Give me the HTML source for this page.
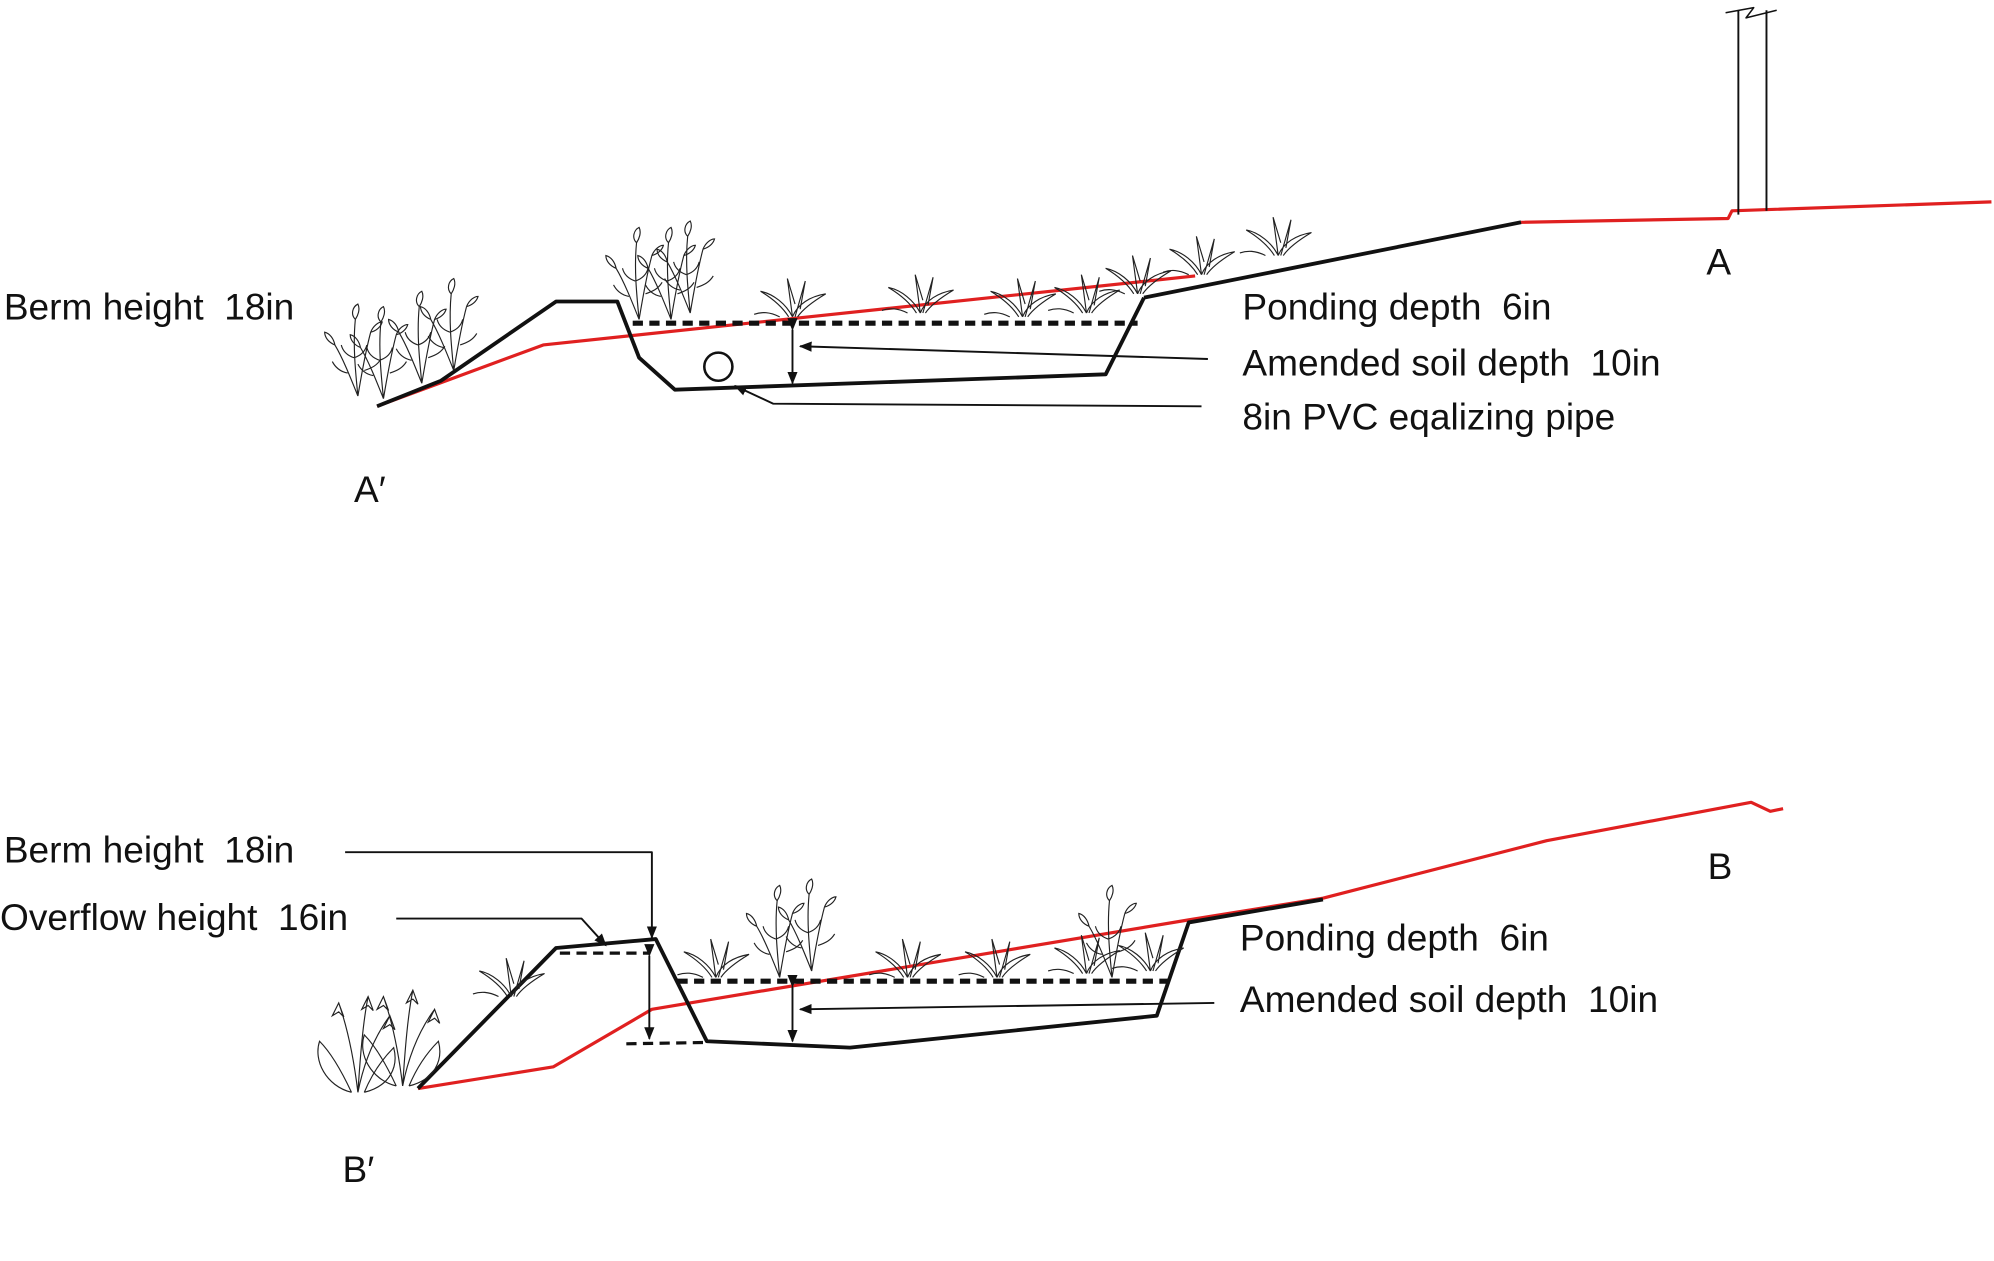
<!DOCTYPE html>
<html><head><meta charset="utf-8"><style>
html,body{margin:0;padding:0;background:#fff;}
svg{display:block;}
text{font-family:"Liberation Sans",sans-serif;font-size:29px;fill:#111;white-space:pre;}
</style></head><body>
<svg width="1994" height="1261" viewBox="0 0 1560 987" preserveAspectRatio="none" xmlns="http://www.w3.org/2000/svg" xml:space="preserve">
<defs>
<marker id="ah" markerWidth="10" markerHeight="10" refX="9" refY="5" orient="auto" markerUnits="userSpaceOnUse"><path d="M0,1 L10,5 L0,9 z" fill="#111"/></marker>
<g id="plant" fill="none" stroke="#222" stroke-width="0.9">
<path d="M0,0 C-2,-20 -4,-40 -2,-60 M0,0 C3,-18 6,-35 10,-50 M0,0 C-6,-15 -12,-30 -18,-40 M-2,-60 c-4,-4 -2,-10 2,-12 c2,4 0,9 -2,12 M10,-50 c2,-5 6,-8 9,-8 c-1,4 -5,7 -9,8 M-18,-40 c-5,-2 -8,-6 -8,-10 c4,1 7,5 8,10 M-3,-30 c-6,-2 -9,-6 -10,-10 M-3,-30 c6,-2 9,-6 10,-10 M5,-20 c6,-2 10,-4 13,-9 M-8,-18 c-6,-1 -10,-5 -12,-9"/>
</g>
<g id="grass" fill="none" stroke="#222" stroke-width="0.9">
<path d="M0,0 C-5,-10 -15,-18 -25,-20 C-15,-14 -8,-8 -3,0 M0,0 C4,-10 14,-16 26,-18 C16,-12 8,-6 4,0 M0,0 L-4,-30 L2,-10 M2,0 L10,-28 L6,-6 M-10,0 c-8,-4 -14,-4 -20,-2"/>
</g>
<g id="flower" fill="none" stroke="#222" stroke-width="0.9">
<path d="M0,0 C-3,-25 -8,-50 -15,-70 M0,0 C2,-30 4,-55 8,-75 M0,0 C5,-25 14,-45 25,-60 M-15,-70 l-5,10 l5,-3 l4,4 z M8,-75 l-5,10 l5,-3 l4,4 z M25,-60 l-5,10 l5,-3 l4,4 z M-5,0 C-25,-5 -35,-25 -30,-40 C-20,-30 -12,-15 -5,0 M5,0 C25,-5 32,-20 28,-35 C18,-25 10,-12 5,0"/>
</g>
</defs>

<!-- TOP SECTION -->
<g fill="none" stroke-linejoin="round">
<polyline points="295,318 425,270 935,216" stroke="#e02020" stroke-width="2.5"/>
<polyline points="1190,174 1352,171 1355,165 1558,158" stroke="#e02020" stroke-width="2.5"/>
<polyline points="895,233 1190,174" stroke="#111" stroke-width="3"/>
<polyline points="295,318 345,298 435,236 483,236 500,280 528,305 865,293 895,233" stroke="#111" stroke-width="3"/>
<line x1="495" y1="253" x2="890" y2="253" stroke="#111" stroke-width="4" stroke-dasharray="8,5"/>
<circle cx="562" cy="287" r="11" stroke="#111" stroke-width="2"/>
<line x1="620" y1="258" x2="620" y2="300" stroke="#111" stroke-width="1.5" marker-end="url(#ah)" marker-start="url(#ah)"/>
<line x1="945" y1="281" x2="626" y2="271" stroke="#111" stroke-width="1.5" marker-end="url(#ah)"/>
<polyline points="940,318 605,316 575,302" stroke="#111" stroke-width="1.5" marker-end="url(#ah)"/>
<line x1="1360" y1="168" x2="1360" y2="8" stroke="#111" stroke-width="1.5"/>
<line x1="1382" y1="165" x2="1382" y2="8" stroke="#111" stroke-width="1.5"/>
<path d="M1350,10 L1372,6 L1366,14 L1390,8" stroke="#111" stroke-width="1.2"/>
</g>
<use href="#plant" x="300" y="312"/><use href="#plant" x="330" y="300"/><use href="#plant" x="355" y="290"/><use href="#plant" x="280" y="310"/>
<use href="#plant" x="500" y="250"/><use href="#plant" x="525" y="250"/><use href="#plant" x="540" y="245"/>
<use href="#grass" x="620" y="248"/><use href="#grass" x="720" y="245"/><use href="#grass" x="800" y="248"/><use href="#grass" x="850" y="245"/><use href="#grass" x="890" y="230"/><use href="#grass" x="940" y="215"/><use href="#grass" x="1000" y="200"/>
<text x="3" y="250">Berm height  18in</text>
<text x="972" y="250">Ponding depth  6in</text>
<text x="972" y="294">Amended soil depth  10in</text>
<text x="972" y="336">8in PVC eqalizing pipe</text>
<text x="1335" y="215">A</text>
<text x="277" y="393">A′</text>

<!-- BOTTOM SECTION -->
<g fill="none" stroke-linejoin="round">
<polyline points="327,852 433,835 510,790 930,720 1035,703 1210,658 1370,628 1385,635 1395,633" stroke="#e02020" stroke-width="2.5"/>
<polyline points="327,852 435,742 513,735 553,815 665,820 905,795 930,722 1035,704" stroke="#111" stroke-width="3"/>
<line x1="438" y1="746" x2="508" y2="746" stroke="#111" stroke-width="2.5" stroke-dasharray="8,5"/>
<line x1="490" y1="817" x2="550" y2="816" stroke="#111" stroke-width="2.5" stroke-dasharray="8,5"/>
<line x1="530" y1="768" x2="920" y2="768" stroke="#111" stroke-width="4" stroke-dasharray="8,5"/>
<line x1="508" y1="748" x2="508" y2="813" stroke="#111" stroke-width="1.5" marker-end="url(#ah)" marker-start="url(#ah)"/>
<line x1="620" y1="772" x2="620" y2="815" stroke="#111" stroke-width="1.5" marker-end="url(#ah)" marker-start="url(#ah)"/>
<line x1="950" y1="785" x2="626" y2="790" stroke="#111" stroke-width="1.5" marker-end="url(#ah)"/>
<polyline points="270,667 510,667 510,734" stroke="#111" stroke-width="1.5" marker-end="url(#ah)"/>
<polyline points="310,719 455,719 474,740" stroke="#111" stroke-width="1.5" marker-end="url(#ah)"/>
</g>
<use href="#flower" x="280" y="855"/><use href="#flower" x="315" y="850"/><use href="#grass" x="400" y="780"/>
<use href="#plant" x="610" y="765"/><use href="#plant" x="635" y="760"/><use href="#grass" x="560" y="765"/>
<use href="#grass" x="710" y="765"/><use href="#grass" x="780" y="765"/><use href="#grass" x="850" y="762"/><use href="#grass" x="900" y="760"/><use href="#plant" x="870" y="765"/>
<text x="3" y="675">Berm height  18in</text>
<text x="0" y="728">Overflow height  16in</text>
<text x="970" y="744">Ponding depth  6in</text>
<text x="970" y="792">Amended soil depth  10in</text>
<text x="1336" y="688">B</text>
<text x="268" y="925">B′</text>
</svg>
</body></html>
